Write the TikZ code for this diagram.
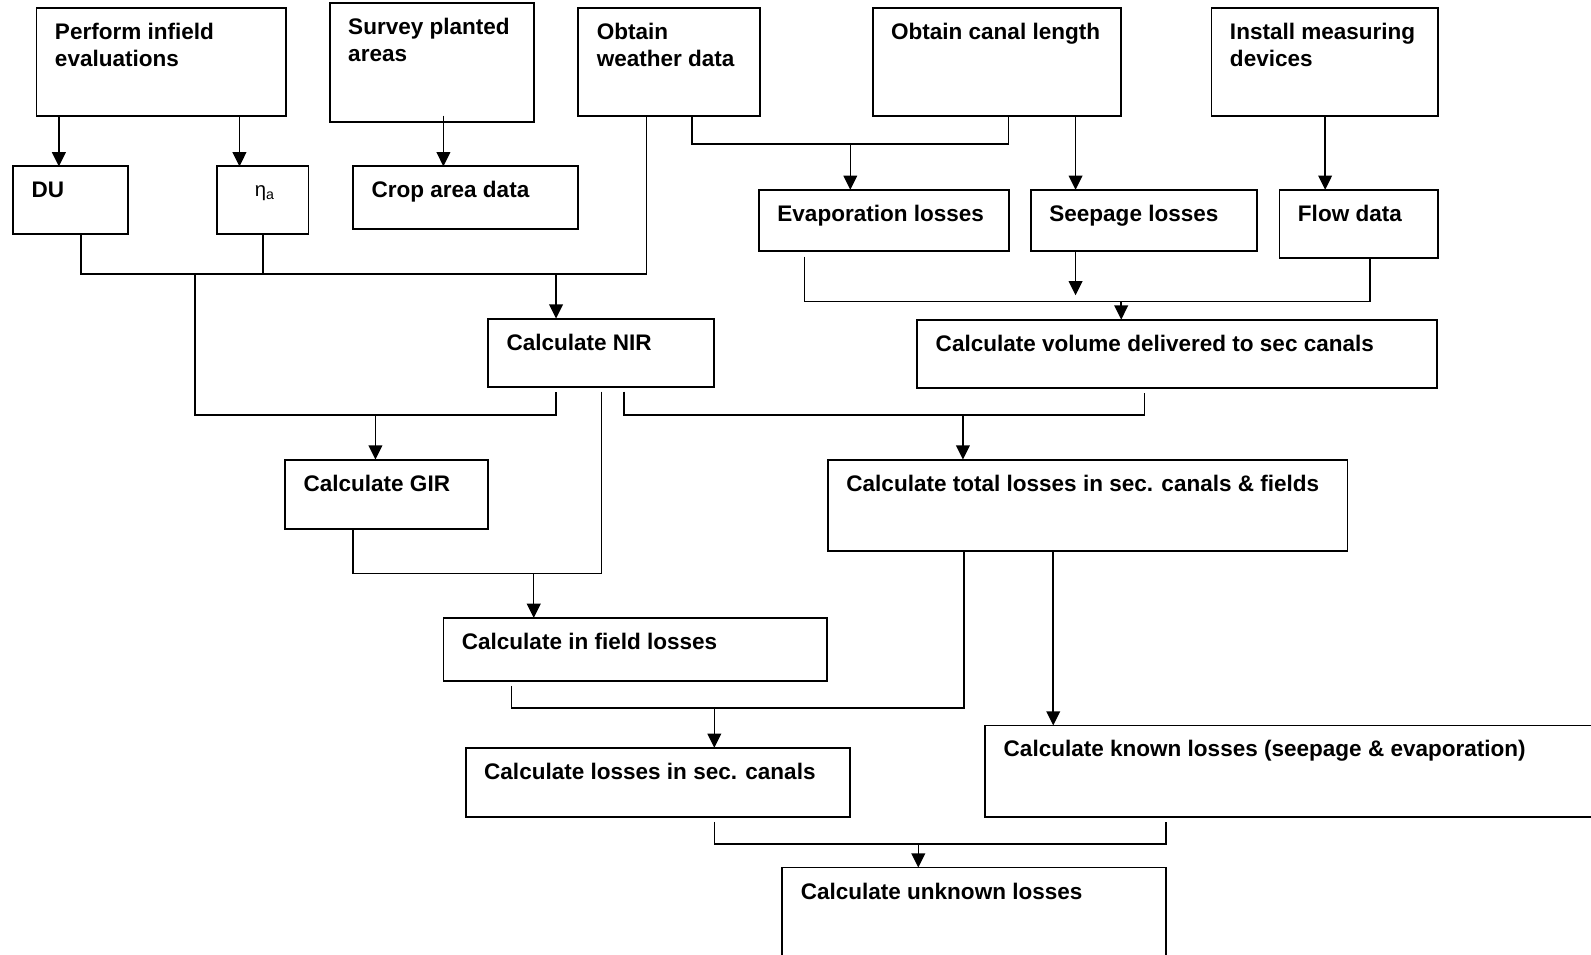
\documentclass[tikz,border=0pt]{standalone}
\usepackage{fontspec}
\setmainfont{Liberation Sans}
\usetikzlibrary{arrows.meta}
\tikzset{
  box/.style={draw, line width=1.8pt, anchor=north west, inner sep=0pt, outer sep=0pt},
  txt/.style={anchor=base west, inner sep=0pt, align=left, xshift=18pt, yshift=-31pt,
    font=\fontsize{22.2pt}{26.3pt}\selectfont\bfseries},
  twolines/.style={yshift=-26.3pt},
  line/.style={line width=1.5pt},
  arr/.style={line width=1.5pt, -{Triangle[length=14pt,width=13.5pt]}}
}
\begin{document}
\begin{tikzpicture}[x=1pt, y=-1pt]
  \useasboundingbox (0,0) rectangle (1568,941);

  % top row
  \node[box, minimum width=246pt, minimum height=106pt, label={[txt, twolines]north west:{Perform infield\\evaluations}}] (perf) at (36,8) {};
  \node[box, minimum width=201pt, minimum height=117pt, label={[txt, twolines]north west:{Survey planted\\areas}}] (surv) at (325,3) {};
  \node[box, minimum width=179pt, minimum height=106pt, label={[txt, twolines]north west:{Obtain\\weather data}}] (weat) at (570,8) {};
  \node[box, minimum width=245pt, minimum height=106pt, label={[txt]north west:{Obtain canal length}}] (canal) at (860,8) {};
  \node[box, minimum width=223pt, minimum height=106pt, label={[txt, twolines]north west:{Install measuring\\devices}}] (inst) at (1194,8) {};

  % data boxes
  \node[box, minimum width=113pt, minimum height=67pt, label={[txt]north west:{DU}}] (du) at (13,164) {};
  \node[box, minimum width=90pt, minimum height=67pt,
        label={[txt, xshift=19pt, yshift=1pt]north west:{\mdseries\fontsize{20pt}{22pt}\selectfont η\raisebox{-3pt}{\fontsize{14pt}{14pt}\selectfont a}}}] (eta) at (214,164) {};
  \node[box, minimum width=222pt, minimum height=62pt, label={[txt]north west:{Crop area data}}] (crop) at (348,164) {};
  \node[box, minimum width=246pt, minimum height=60pt, label={[txt]north west:{Evaporation losses}}] (evap) at (748,187) {};
  \node[box, minimum width=223pt, minimum height=60pt, label={[txt]north west:{Seepage losses}}] (seep) at (1016,187) {};
  \node[box, minimum width=156pt, minimum height=67pt, label={[txt]north west:{Flow data}}] (flow) at (1261,187) {};

  % calculations
  \node[box, minimum width=223pt, minimum height=67pt, label={[txt]north west:{Calculate NIR}}] (nir) at (481,314) {};
  \node[box, minimum width=512pt, minimum height=67pt, label={[txt]north west:{Calculate volume delivered to sec canals}}] (vol) at (904,315) {};
  \node[box, minimum width=200pt, minimum height=68pt, label={[txt]north west:{Calculate GIR}}] (gir) at (281,453) {};
  \node[box, minimum width=512pt, minimum height=90pt, label={[txt]north west:{Calculate total losses in sec. canals \& fields}}] (total) at (816,453) {};
  \node[box, minimum width=378pt, minimum height=62pt, label={[txt]north west:{Calculate in field losses}}] (infield) at (437,609) {};
  \node[box, minimum width=379pt, minimum height=68pt, label={[txt]north west:{Calculate losses in sec. canals}}] (sec) at (459,737) {};
  \node[box, minimum width=650pt, minimum height=90pt, label={[txt]north west:{Calculate known losses (seepage \& evaporation)}}] (known) at (971,715) {};
  \node[box, minimum width=378pt, minimum height=110pt, label={[txt]north west:{Calculate unknown losses}}] (unknown) at (771,855) {};

  % junctions
  \coordinate (jnir)   at (548,270);
  \coordinate (jleft)  at (192,270);
  \coordinate (jgir)   at (370,409);
  \coordinate (jevap)  at (838,142);
  \coordinate (jvol)   at (1105,297);
  \coordinate (jtot)   at (949,409);
  \coordinate (jfield) at (526,565);
  \coordinate (jsec)   at (704,698);
  \coordinate (junk)   at (905,832);

  % straight arrows
  \draw[arr] ([xshift=45pt]du.north west |- perf.south) -- ([xshift=45pt]du.north west);
  \draw[arr] ([xshift=22pt]eta.north west |- perf.south) -- ([xshift=22pt]eta.north west);
  \draw[arr] ([xshift=89pt,yshift=6pt]crop.north west |- surv.south) -- ([xshift=89pt]crop.north west);
  \draw[arr] ([xshift=44pt]seep.north west |- canal.south) -- ([xshift=44pt]seep.north west);
  \draw[arr] ([xshift=45pt]flow.north west |- inst.south) -- ([xshift=45pt]flow.north west);

  % NIR and GIR
  \draw[line] ([xshift=67pt]du.south west) |- (jnir) -| ([xshift=67pt]weat.south west);
  \draw[line] ([xshift=45pt]eta.south west) -- ([xshift=45pt]eta.south west |- jnir);
  \draw[arr] (jnir) -- (jnir |- nir.north);
  \draw[line] (jleft) |- (jgir) -| ([xshift=67pt,yshift=-5pt]nir.south west);
  \draw[arr] (jgir) -- (jgir |- gir.north);

  % canal losses
  \draw[line] ([xshift=112pt]weat.south west) |- (jevap) -| ([xshift=134pt]canal.south west);
  \draw[arr] (jevap) -- (jevap |- evap.north);
  \draw[line] ([xshift=45pt,yshift=-6pt]evap.south west) |- (jvol) -| ([xshift=89pt]flow.south west);
  \draw[arr] ([xshift=44pt]seep.south west) -- ([xshift=44pt,yshift=6pt]seep.south west |- jvol);
  \draw[arr] (jvol) -- (jvol |- vol.north);

  % totals
  \draw[line] ([xshift=134pt,yshift=-5pt]nir.south west) |- (jtot) -| ([xshift=224pt,yshift=-5pt]vol.south west);
  \draw[arr] (jtot) -- (jtot |- total.north);
  \draw[line] ([xshift=112pt,yshift=-5pt]nir.south west) |- (jfield) -| ([xshift=67pt]gir.south west);
  \draw[arr] (jfield) -- (jfield |- infield.north);
  \draw[line] ([xshift=67pt,yshift=-5pt]infield.south west) |- (jsec) -| ([xshift=134pt]total.south west);
  \draw[arr] (jsec) -- (jsec |- sec.north);
  \draw[arr] ([xshift=222pt]total.south west) -- ([xshift=222pt]total.south west |- known.north);
  \draw[line] ([xshift=245pt,yshift=-5pt]sec.south west) |- (junk) -| ([xshift=178pt,yshift=-5pt]known.south west);
  \draw[arr] (junk) -- (junk |- unknown.north);
\end{tikzpicture}
\end{document}
